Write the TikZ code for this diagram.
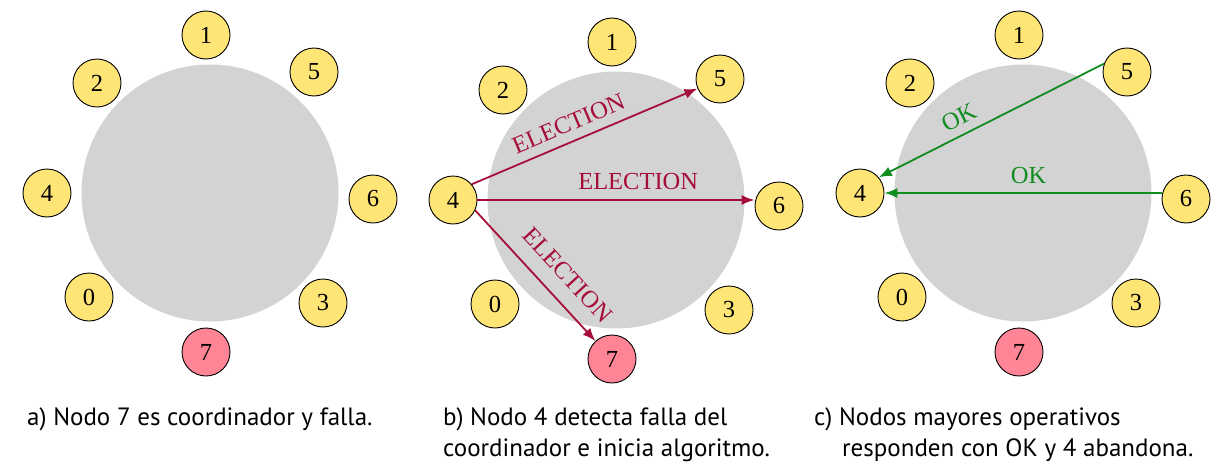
\documentclass[tikz,border=0pt]{standalone}
\usepackage{fontspec}
\setmainfont{Liberation Serif}
\newfontfamily\capfont{PT Sans}
\usetikzlibrary{arrows.meta}
\definecolor{nodeyel}{RGB}{255,228,118}
\definecolor{nodered}{RGB}{255,133,150}
\definecolor{ringgray}{RGB}{211,211,211}
\definecolor{elecred}{RGB}{166,14,58}
\definecolor{okgreen}{RGB}{16,140,32}
\newcommand\drawring[3]{%
  \begin{scope}[shift={(#2,#3)}]
    \node[ring] (#1c) at (0,0) {};
    \node[proc] (#11) at (-4,-158) {1};
    \node[proc] (#15) at (104,-121) {5};
    \node[proc] (#12) at (-113,-110) {2};
    \node[proc] (#14) at (-163,0) {4};
    \node[proc] (#16) at (163,6) {6};
    \node[proc] (#10) at (-121,104) {0};
    \node[proc] (#13) at (113,110) {3};
    \node[dead] (#17) at (-4,159) {7};
  \end{scope}}
\begin{document}
\begin{tikzpicture}[x=1pt,y=-1pt,
  proc/.style={circle,draw=black,line width=0.9pt,fill=nodeyel,minimum size=48pt,inner sep=0pt,font=\fontsize{24.5}{28}\selectfont},
  dead/.style={proc,fill=nodered},
  ring/.style={circle,fill=ringgray,minimum size=257pt,inner sep=0pt},
  msg/.style={line width=1.8pt,-{Latex[length=13pt,width=10pt]}},
  lbl/.style={font=\fontsize{24.5}{28}\selectfont,inner sep=2pt},
  caption/.style={font=\capfont\fontsize{25}{32}\selectfont,anchor=base west,inner sep=0pt}]
\useasboundingbox (0,0) rectangle (1221,471);
\drawring{a}{210}{193}
\drawring{b}{616}{200}
\drawring{c}{1023}{193}
% panel b
\draw[msg,elecred] (b4.40) -- node[lbl,sloped,above=7pt,pos=0.46] {ELECTION} (b5);
\draw[msg,elecred] (b4.east) -- node[lbl,above=7pt,pos=0.58] {ELECTION} (b4.east -| b6.west);
\draw[msg,elecred] (b4.-25) -- node[lbl,sloped,above=13pt,pos=0.62] {ELECTION} (b7);
% panel c
\draw[msg,okgreen] (c5.160) -- node[lbl,sloped,above=6pt,pos=0.61] {OK} (c4.40);
\draw[msg,okgreen] (c4.east -| c6.west) -- node[lbl,above=6pt,pos=0.48] {OK} (c4.east);
% captions
\node[caption] (capa) at (27,425) {a) Nodo 7 es coordinador y falla.};
\node[caption] (capb1) at (443,425) {b) Nodo 4 detecta falla del};
\node[caption] (capb2) at (443,456) {coordinador e inicia algoritmo.};
\node[caption] (capc1) at (814,425) {c) Nodos mayores operativos};
\node[caption] (capc2) at (842,456) {responden con OK y 4 abandona.};
\end{tikzpicture}
\end{document}
